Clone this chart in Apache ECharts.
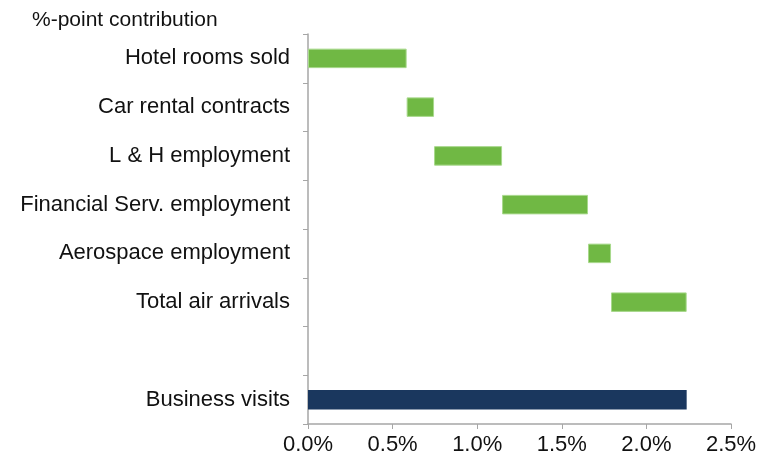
<!DOCTYPE html>
<html>
<head>
<meta charset="utf-8">
<script src="https://cdn.jsdelivr.net/npm/echarts@6/dist/echarts.min.js"></script>
<style>
  html, body { margin: 0; padding: 0; background: #fff; }
  #chart { width: 767px; height: 461px; }
</style>
</head>
<body>
<div id="chart"></div>
<script>
// Drivers of the business-visit change, in %-points
const categories = [
  'Hotel rooms sold',
  'Car rental contracts',
  'L & H employment',
  'Financial Serv. employment',
  'Aerospace employment',
  'Total air arrivals',
  '',
  'Business visits'
];
const contributions = [0.583, 0.162, 0.402, 0.508, 0.136, 0.447];
const totalValue = 2.238;
const xTicks = [0, 0.5, 1.0, 1.5, 2.0, 2.5];

// Floating offsets: each step starts where the previous one ended
const offsets = [];
const steps = [];
const totals = [];
let running = 0;
categories.forEach((c, i) => {
  if (i < contributions.length) {
    offsets.push(running);
    steps.push(contributions[i]);
    totals.push('-');
    running += contributions[i];
  } else if (c === '') {
    offsets.push('-'); steps.push('-'); totals.push('-');
  } else {
    offsets.push(0); steps.push('-'); totals.push(totalValue);
  }
});

const font = 'Liberation Sans, Arial, sans-serif';
const chart = echarts.init(document.getElementById('chart'));
chart.setOption({
  animation: false,
  title: {
    text: '%-point contribution',
    left: 27, top: 5,
    textStyle: { fontFamily: font, fontSize: 21, fontWeight: 'normal', color: '#111' }
  },
  grid: { left: 308, right: 36, top: 34, bottom: 37, containLabel: false },
  xAxis: {
    type: 'value',
    min: xTicks[0], max: xTicks[xTicks.length - 1], interval: 0.5,
    axisLine: { show: true, lineStyle: { color: '#a6a6a6', width: 1.5 } },
    axisTick: { show: true, length: 5, lineStyle: { color: '#a6a6a6' } },
    splitLine: { show: false },
    axisLabel: {
      fontFamily: font, fontSize: 22, color: '#111', margin: 10,
      formatter: v => v.toFixed(1) + '%'
    }
  },
  yAxis: {
    type: 'category',
    inverse: true,
    data: categories,
    axisLine: { show: true, lineStyle: { color: '#a6a6a6', width: 1.5 } },
    axisTick: { show: true, length: 5, lineStyle: { color: '#a6a6a6' } },
    axisLabel: { fontFamily: font, fontSize: 22, color: '#111', margin: 18 }
  },
  series: [
    {
      name: 'offset', type: 'bar', stack: 'w', data: offsets,
      itemStyle: { color: 'transparent' }, barCategoryGap: '60%', silent: true
    },
    {
      name: 'contribution', type: 'bar', stack: 'w', data: steps,
      itemStyle: { color: '#70b844', borderColor: '#a8d98c', borderWidth: 1 }
    },
    {
      name: 'total', type: 'bar', stack: 'w', data: totals,
      itemStyle: { color: '#1a375e' }
    }
  ]
});
</script>
</body>
</html>
